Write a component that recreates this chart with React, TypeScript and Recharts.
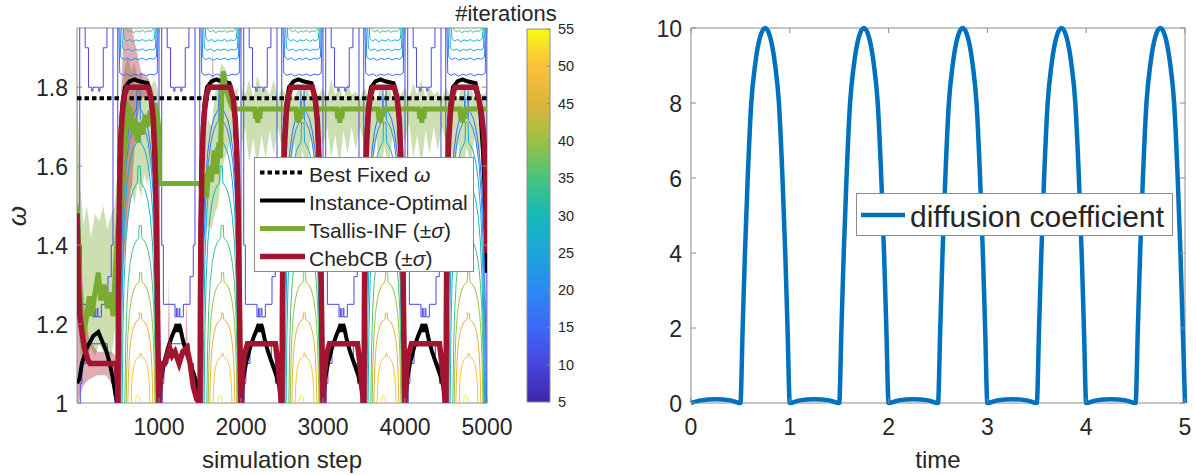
import React from 'react';
import { ComposedChart, LineChart, Line, Area, XAxis, YAxis, ReferenceArea } from 'recharts';

type P = [number, number];
type B = [number, number, number];

const FONT = '"Liberation Sans", Arial, Helvetica, sans-serif';
const TXT = '#262626';
const AX = '#8c8c8c';

// ---------------- left panel axes ----------------
const stepTicks = [1000, 2000, 3000, 4000, 5000];
const omegaTicks = [1, 1.2, 1.4, 1.6, 1.8];
const stepDomain: [number, number] = [0, 5000];
const omegaDomain: [number, number] = [1, 1.95];
const periodStarts = [0, 1000, 2000, 3000, 4000];

// ---------------- colorbar ----------------
const cbTicks = [5, 10, 15, 20, 25, 30, 35, 40, 45, 50, 55];
const cbDomain: [number, number] = [5, 55];
const parulaStops: [number, string][] = [
  [55, '#F9FB0E'], [52.5, '#F7DC2B'], [50, '#FBC13B'], [45, '#DCB53B'], [40, '#9CC143'],
  [35, '#47C47C'], [30, '#14B9B9'], [25, '#1CA6DC'], [20, '#2A89F1'], [15, '#3D68F8'],
  [10, '#4745DD'], [5, '#3E26A8'],
];

// ---------------- contour levels (#iterations) ----------------
const levelValues = [10, 15, 20, 25, 30, 35, 40, 45, 50, 55];
const levelColors = ['#4B47E2', '#3D68F8', '#2A89F1', '#1CA6DC', '#14B9B9', '#47C47C', '#9CC143', '#E9B236', '#F8C832', '#F5F014'];

// bottom arches in high-diffusion half of each period (step offset within period)
const archLevels = [15, 20, 25, 30, 35, 40, 45, 50, 55];
const archLeft = [508, 520, 535, 550, 583, 600, 620, 660, 715];
const archRight = [992, 982, 972, 965, 960, 950, 925, 890, 765];
const archPeak = [1.8, 1.77, 1.71, 1.6, 1.45, 1.33, 1.228, 1.126, 1.02];
const archProfileU = [0, 0.05, 0.12, 0.22, 0.35, 0.5, 0.65, 0.8, 0.9, 0.93, 1];
const archProfileF = [0, 0.3, 0.52, 0.68, 0.79, 0.86, 0.9, 0.92, 0.93, 1, 1];

// hanging bowls near the top of the high-diffusion half
const bowlLevels = [15, 20, 25, 30, 35];
const bowlLeft = [512, 525, 545, 565, 590];
const bowlRight = [988, 978, 965, 952, 935];
const bowlDepth = [1.83, 1.87, 1.893, 1.917, 1.94];
const bowlProfileU = [0, 0.02, 0.1, 0.2, 0.3, 0.4, 0.5, 0.6, 0.7, 0.8, 0.9, 0.98, 1];
const bowlProfileD = [0, 0.006, 0, 0.004, -0.002, 0.003, 0, 0.004, -0.001, 0.003, 0.001, 0.006, 0];

// level-10 contours in the low-diffusion half
const plugUpper: P[] = [[100, 1.95], [100, 1.9], [140, 1.9], [140, 1.8], [180, 1.8], [180, 1.79], [195, 1.79], [195, 1.8], [265, 1.8], [265, 1.79], [280, 1.79], [280, 1.8], [320, 1.8], [320, 1.9], [365, 1.9], [365, 1.95]];
const plugLower: P[] = [[33, 1.95], [33, 1.4], [53, 1.4], [53, 1.25], [195, 1.25], [195, 1.218], [212, 1.218], [212, 1.24], [222, 1.24], [222, 1.218], [245, 1.218], [245, 1.24], [255, 1.24], [255, 1.218], [297, 1.218], [297, 1.25], [378, 1.25], [378, 1.32], [418, 1.32], [418, 1.4], [439, 1.4], [439, 1.95]];
const mountain: P[] = [[40, 1], [40, 1.05], [60, 1.05], [60, 1.1], [110, 1.1], [110, 1.15], [370, 1.15], [370, 1.1], [420, 1.1], [420, 1.05], [460, 1.05], [460, 1]];
const edgeA: P[] = [[497, 1], [497, 1.95]];
const edgeB: P[] = [[1000, 1], [1000, 1.95]];

// ---------------- series ----------------
const bestFixedOmega = 1.772;

const ioFirstLow: P[] = [[0, 1.05], [30, 1.06], [60, 1.1], [120, 1.14], [200, 1.17], [260, 1.18], [320, 1.15], [360, 1.13], [400, 1.1], [440, 1.06], [470, 1.02], [495, 1.0]];
const ioLow: P[] = [[25, 1.06], [60, 1.1], [110, 1.14], [160, 1.17], [200, 1.19], [215, 1.2], [230, 1.18], [245, 1.2], [260, 1.19], [290, 1.16], [330, 1.13], [380, 1.1], [430, 1.07], [470, 1.04], [495, 1.0]];
const ioHigh: P[] = [[500, 1.0], [503, 1.25], [510, 1.45], [520, 1.6], [535, 1.7], [555, 1.76], [585, 1.8], [640, 1.815], [700, 1.82], [760, 1.815], [860, 1.81], [895, 1.78], [925, 1.72], [945, 1.63], [962, 1.5], [976, 1.3], [990, 1.1], [1000, 1.0]];
const ioLastHigh: P[] = [[4500, 1.0], [4503, 1.25], [4510, 1.45], [4520, 1.6], [4535, 1.7], [4555, 1.76], [4585, 1.8], [4640, 1.815], [4700, 1.82], [4760, 1.815], [4860, 1.81], [4895, 1.78], [4925, 1.72], [4950, 1.64], [4975, 1.52], [4990, 1.42], [5000, 1.33]];

const chFirstLow: P[] = [[0, 1.48], [8, 1.42], [18, 1.3], [35, 1.22], [60, 1.18], [90, 1.14], [130, 1.11], [160, 1.1], [480, 1.1], [495, 1.05]];
const chLow1: P[] = [[1015, 1.06], [1040, 1.1], [1070, 1.1], [1100, 1.12], [1130, 1.14], [1160, 1.12], [1195, 1.13], [1245, 1.1], [1290, 1.13], [1340, 1.14], [1380, 1.1], [1420, 1.04], [1460, 1.01], [1495, 1.0]];
const chLow: P[] = [[15, 1.07], [40, 1.12], [80, 1.15], [420, 1.15], [450, 1.1], [480, 1.03], [495, 1.0]];
const chHigh: P[] = [[500, 1.0], [505, 1.25], [512, 1.45], [522, 1.58], [535, 1.67], [555, 1.74], [580, 1.78], [610, 1.8], [870, 1.8], [905, 1.77], [930, 1.72], [950, 1.63], [965, 1.5], [978, 1.3], [990, 1.12], [1000, 1.0]];
const chLastHigh: P[] = [[4500, 1.0], [4505, 1.25], [4512, 1.45], [4522, 1.58], [4535, 1.67], [4555, 1.74], [4580, 1.78], [4610, 1.8], [4860, 1.8], [4900, 1.77], [4935, 1.73], [4960, 1.68], [4980, 1.6], [4992, 1.5], [5000, 1.38]];

const tsallisINF: P[] = [
  [0, 1.5], [15, 1.44], [30, 1.3], [50, 1.22], [80, 1.17], [110, 1.21], [150, 1.27], [180, 1.22], [220, 1.28], [260, 1.33], [290, 1.26], [330, 1.3], [370, 1.24], [410, 1.28], [440, 1.22], [470, 1.35], [500, 1.45], [530, 1.5], [560, 1.58], [590, 1.68], [620, 1.75], [650, 1.74], [680, 1.68], [710, 1.72], [740, 1.66], [770, 1.71], [800, 1.68], [830, 1.73], [860, 1.7], [890, 1.74], [920, 1.72], [950, 1.76], [980, 1.73], [995, 1.7], [1005, 1.556],
  [1500, 1.556], [1520, 1.54], [1550, 1.58], [1580, 1.52], [1610, 1.6], [1640, 1.56], [1670, 1.64], [1700, 1.58], [1730, 1.66], [1750, 1.62], [1765, 1.78], [1785, 1.84], [1810, 1.8], [1840, 1.78], [1870, 1.76], [1900, 1.745],
  [2170, 1.745], [2180, 1.72], [2190, 1.745], [2205, 1.71], [2215, 1.745], [2230, 1.72], [2240, 1.745], [2670, 1.745], [2680, 1.72], [2690, 1.745], [2705, 1.71], [2715, 1.745], [2730, 1.72], [2740, 1.745],
  [3170, 1.745], [3180, 1.72], [3190, 1.745], [3205, 1.71], [3215, 1.745], [3230, 1.72], [3240, 1.745], [3670, 1.745], [3680, 1.72], [3690, 1.745], [3705, 1.71], [3715, 1.745], [3730, 1.725], [3740, 1.745],
  [4170, 1.745], [4180, 1.72], [4190, 1.745], [4205, 1.71], [4215, 1.745], [4230, 1.72], [4240, 1.745], [4670, 1.745], [4680, 1.72], [4690, 1.745], [4705, 1.71], [4715, 1.745], [4730, 1.72], [4740, 1.745], [5000, 1.745],
];

const tsallisBand: B[][] = [
  [[0, 1.3, 1.8], [15, 1.2, 1.7], [40, 1.13, 1.55], [80, 1.1, 1.45], [120, 1.12, 1.5], [170, 1.14, 1.42], [220, 1.12, 1.48], [270, 1.15, 1.46], [320, 1.13, 1.5], [370, 1.12, 1.44], [420, 1.12, 1.48], [460, 1.18, 1.5], [500, 1.25, 1.6], [540, 1.3, 1.75], [580, 1.4, 1.85], [620, 1.5, 1.88], [660, 1.55, 1.84], [700, 1.5, 1.86], [740, 1.56, 1.82], [780, 1.52, 1.84], [820, 1.58, 1.8], [860, 1.55, 1.83], [900, 1.6, 1.8], [940, 1.58, 1.82], [980, 1.6, 1.8], [998, 1.56, 1.78]],
  [[1505, 1.5, 1.58], [1530, 1.46, 1.62], [1560, 1.42, 1.66], [1600, 1.45, 1.72], [1640, 1.44, 1.7], [1680, 1.48, 1.78], [1720, 1.5, 1.82], [1760, 1.58, 1.86], [1800, 1.62, 1.85], [1840, 1.64, 1.82], [1880, 1.66, 1.8], [1920, 1.68, 1.79], [1960, 1.66, 1.8]],
  [[2000, 1.64, 1.8], [2050, 1.7, 1.78], [2100, 1.61, 1.82], [2150, 1.67, 1.77], [2200, 1.6, 1.83], [2250, 1.68, 1.79], [2300, 1.62, 1.8], [2350, 1.69, 1.78], [2400, 1.63, 1.82], [2450, 1.7, 1.77], [2500, 1.64, 1.8], [2550, 1.69, 1.78], [2600, 1.58, 1.79], [2650, 1.66, 1.77], [2700, 1.56, 1.8], [2750, 1.64, 1.78], [2800, 1.58, 1.81], [2850, 1.67, 1.77], [2900, 1.61, 1.79], [2950, 1.68, 1.78],
   [3000, 1.65, 1.8], [3050, 1.7, 1.77], [3100, 1.62, 1.82], [3150, 1.68, 1.78], [3200, 1.6, 1.8], [3250, 1.69, 1.77], [3300, 1.63, 1.81], [3350, 1.7, 1.78], [3400, 1.64, 1.79], [3450, 1.7, 1.77], [3500, 1.66, 1.8], [3550, 1.7, 1.78], [3600, 1.59, 1.79], [3650, 1.67, 1.77], [3700, 1.57, 1.8], [3750, 1.65, 1.78], [3800, 1.6, 1.81], [3850, 1.68, 1.77], [3900, 1.62, 1.79], [3950, 1.69, 1.78],
   [4000, 1.66, 1.8], [4050, 1.71, 1.77], [4100, 1.62, 1.81], [4150, 1.68, 1.78], [4200, 1.6, 1.82], [4250, 1.69, 1.77], [4300, 1.63, 1.8], [4350, 1.7, 1.78], [4400, 1.64, 1.79], [4450, 1.7, 1.77], [4500, 1.66, 1.8], [4550, 1.7, 1.78], [4600, 1.58, 1.79], [4650, 1.66, 1.77], [4700, 1.57, 1.81], [4750, 1.65, 1.78], [4800, 1.6, 1.8], [4850, 1.68, 1.77], [4900, 1.62, 1.79], [4950, 1.69, 1.78], [5000, 1.66, 1.79]],
];

const chebBand: B[][] = [
  [[0, 1.0, 1.52], [20, 1.0, 1.5], [40, 1.02, 1.42], [70, 1.04, 1.3], [100, 1.05, 1.22], [150, 1.06, 1.16], [250, 1.07, 1.13], [350, 1.07, 1.13], [420, 1.05, 1.13], [470, 1.0, 1.12], [495, 1.0, 1.1]],
  [[503, 1.05, 1.5], [530, 1.1, 1.75], [570, 1.35, 1.95], [620, 1.45, 1.95], [670, 1.55, 1.95], [720, 1.7, 1.9], [780, 1.77, 1.84], [870, 1.78, 1.82], [930, 1.65, 1.79], [970, 1.4, 1.7], [997, 1.05, 1.35]],
  [[1105, 1.12, 1.12], [1120, 1.11, 1.32], [1135, 1.12, 1.13]],
  [[1320, 1.13, 1.13], [1335, 1.12, 1.28], [1350, 1.13, 1.14]],
  [[1640, 1.8, 1.8], [1655, 1.8, 1.9], [1670, 1.8, 1.8]],
];

// ---------------- right panel ----------------
const timeTicks = [0, 1, 2, 3, 4, 5];
const diffTicks = [0, 2, 4, 6, 8, 10];
const diffTime = [
  0, 0.1, 0.25, 0.4, 0.5, 0.523, 0.546, 0.574, 0.61, 0.648, 0.698, 0.75, 0.802, 0.852, 0.89, 0.926, 0.954, 0.977,
  1, 1.1, 1.25, 1.4, 1.5, 1.523, 1.546, 1.574, 1.61, 1.648, 1.698, 1.75, 1.802, 1.852, 1.89, 1.926, 1.954, 1.977,
  2, 2.1, 2.25, 2.4, 2.5, 2.523, 2.546, 2.574, 2.61, 2.648, 2.698, 2.75, 2.802, 2.852, 2.89, 2.926, 2.954, 2.977,
  3, 3.1, 3.25, 3.4, 3.5, 3.523, 3.546, 3.574, 3.61, 3.648, 3.698, 3.75, 3.802, 3.852, 3.89, 3.926, 3.954, 3.977,
  4, 4.1, 4.25, 4.4, 4.5, 4.523, 4.546, 4.574, 4.61, 4.648, 4.698, 4.75, 4.802, 4.852, 4.89, 4.926, 4.954, 4.977,
  5,
];
const diffValue = [
  0, 0.07, 0.1, 0.07, 0, 2, 4, 6, 8, 9, 9.75, 10, 9.75, 9, 8, 6, 4, 2,
  0, 0.07, 0.1, 0.07, 0, 2, 4, 6, 8, 9, 9.75, 10, 9.75, 9, 8, 6, 4, 2,
  0, 0.07, 0.1, 0.07, 0, 2, 4, 6, 8, 9, 9.75, 10, 9.75, 9, 8, 6, 4, 2,
  0, 0.07, 0.1, 0.07, 0, 2, 4, 6, 8, 9, 9.75, 10, 9.75, 9, 8, 6, 4, 2,
  0, 0.07, 0.1, 0.07, 0, 2, 4, 6, 8, 9, 9.75, 10, 9.75, 9, 8, 6, 4, 2,
  0,
];

// ---------------- builders ----------------
const shift = (pts: P[], dx: number): P[] => pts.map(([x, y]) => [x + dx, y] as P);
const toXY = (pts: P[]) => pts.map(([x, y]) => ({ x, y }));
const toBand = (pts: B[]) => pts.map(([x, lo, hi]) => ({ x, r: [lo, hi] }));

const instanceOptimal: P[] = [
  ...ioFirstLow, ...ioHigh,
  ...shift(ioLow, 1000), ...shift(ioHigh, 1000),
  ...shift(ioLow, 2000), ...shift(ioHigh, 2000),
  ...shift(ioLow, 3000), ...shift(ioHigh, 3000),
  ...shift(ioLow, 4000), ...ioLastHigh,
];
const chebCB: P[] = [
  ...chFirstLow, ...chHigh,
  ...chLow1, ...shift(chHigh, 1000),
  ...shift(chLow, 2000), ...shift(chHigh, 2000),
  ...shift(chLow, 3000), ...shift(chHigh, 3000),
  ...shift(chLow, 4000), ...chLastHigh,
];

const archShape = (l: number, r: number, peak: number): P[] => {
  const c = (l + r) / 2;
  const h = peak - 1;
  const pts: P[] = archProfileU.map((u, i) => [l + u * (c - l), 1 + h * archProfileF[i]] as P);
  for (let i = archProfileU.length - 2; i >= 0; i--) pts.push([r - archProfileU[i] * (r - c), 1 + h * archProfileF[i]]);
  return pts;
};
const bowlShape = (l: number, r: number, d: number): P[] =>
  bowlProfileU.map((u, i) => [l + u * (r - l), i === 0 || i === bowlProfileU.length - 1 ? 1.95 : Math.min(1.95, d + bowlProfileD[i])] as P);

const tile = (shapes: P[][]) => {
  const out: { x: number; y: number | null }[] = [];
  periodStarts.forEach((p) => {
    shapes.forEach((s) => {
      s.forEach(([x, y]) => out.push({ x: x + p, y }));
      out.push({ x: p, y: null });
    });
  });
  return out;
};

const contourLines = levelValues.map((L, i) => {
  const shapes: P[][] = [];
  if (L === 10) shapes.push(plugUpper, plugLower, mountain, edgeA, edgeB);
  const ai = archLevels.indexOf(L);
  if (ai >= 0) shapes.push(archShape(archLeft[ai], archRight[ai], archPeak[ai]));
  const bi = bowlLevels.indexOf(L);
  if (bi >= 0) shapes.push(bowlShape(bowlLeft[bi], bowlRight[bi], bowlDepth[bi]));
  return { color: levelColors[i], data: tile(shapes) };
});

const diffusion = diffTime.map((t, i) => ({ t, d: diffValue[i] }));
const colorbarSpan = [{ x: 0, v: cbDomain[0] }, { x: 1, v: cbDomain[1] }];

// ---------------- layout ----------------
const PL = { left: 77, right: 487, top: 28, bottom: 403 };
const PR = { left: 91, right: 585, top: 28, bottom: 403 }; // local to right chart
const CB = { left: 27, right: 50, top: 29, bottom: 402 }; // local to colorbar chart

const mkXTick = (R: typeof PL) => (props: any) => {
  const { x, payload } = props;
  return (
    <g>
      <line x1={x} x2={x} y1={R.bottom} y2={R.bottom - 5} stroke={AX} />
      <line x1={x} x2={x} y1={R.top} y2={R.top + 5} stroke={AX} />
      <text x={x} y={R.bottom + 32} textAnchor="middle" fontSize={23} fill={TXT} fontFamily={FONT}>{String(payload.value)}</text>
    </g>
  );
};
const mkYTick = (R: typeof PL) => (props: any) => {
  const { y, payload } = props;
  return (
    <g>
      <line x1={R.left} x2={R.left + 5} y1={y} y2={y} stroke={AX} />
      <line x1={R.right} x2={R.right - 5} y1={y} y2={y} stroke={AX} />
      <text x={R.left - 9} y={y + 8.5} textAnchor="end" fontSize={23} fill={TXT} fontFamily={FONT}>{String(payload.value)}</text>
    </g>
  );
};
const cbTick = (props: any) => {
  const { y, payload } = props;
  return (
    <g>
      <line x1={CB.right} x2={CB.right - 3} y1={y} y2={y} stroke={AX} />
      <text x={CB.right + 8} y={y + 5} textAnchor="start" fontSize={14.5} fill={TXT} fontFamily={FONT}>{String(payload.value)}</text>
    </g>
  );
};

const common = { dot: false as const, activeDot: false as const, isAnimationActive: false, type: 'linear' as const };

export default function App() {
  return (
    <div style={{ position: 'absolute', left: 0, top: 0, width: 1196, height: 475, background: '#fff', fontFamily: FONT, overflow: 'hidden' }}>
      <svg width={0} height={0} style={{ position: 'absolute' }}>
        <defs>
          <linearGradient id="parulaGrad" x1="0" y1="0" x2="0" y2="1">
            {parulaStops.map(([v, c], i) => (
              <stop key={i} offset={(cbDomain[1] - v) / (cbDomain[1] - cbDomain[0])} stopColor={c} />
            ))}
          </linearGradient>
        </defs>
      </svg>

      {/* left panel */}
      <div style={{ position: 'absolute', left: 0, top: 0 }}>
        <ComposedChart width={600} height={475} margin={{ top: PL.top, right: 600 - PL.right, bottom: 475 - PL.bottom - 30, left: PL.left - 40 }}>
          <XAxis type="number" dataKey="x" domain={stepDomain} ticks={stepTicks} interval={0} height={30} axisLine={false} tickLine={false} tick={mkXTick(PL)} allowDataOverflow />
          <YAxis type="number" domain={omegaDomain} ticks={omegaTicks} interval={0} width={40} axisLine={false} tickLine={false} tick={mkYTick(PL)} allowDataOverflow />
          {contourLines.map((c, i) => (
            <Line key={'c' + i} data={c.data} dataKey="y" stroke={c.color} strokeWidth={1} connectNulls={false} {...common} />
          ))}
          <Line data={[{ x: 0, y: bestFixedOmega }, { x: 5000, y: bestFixedOmega }]} dataKey="y" stroke="#000" strokeWidth={4} strokeDasharray="4.5 3" {...common} />
          <Line data={toXY(instanceOptimal)} dataKey="y" stroke="#000" strokeWidth={4} {...common} />
          {tsallisBand.map((s, i) => (
            <Area key={'tb' + i} data={toBand(s)} dataKey="r" stroke="none" fill="#77AC30" fillOpacity={0.38} {...common} />
          ))}
          <Line data={toXY(tsallisINF)} dataKey="y" stroke="#77AC30" strokeWidth={5} {...common} />
          {chebBand.map((s, i) => (
            <Area key={'cb' + i} data={toBand(s)} dataKey="r" stroke="none" fill="#A2142F" fillOpacity={0.35} {...common} />
          ))}
          <Line data={toXY(chebCB)} dataKey="y" stroke="#A2142F" strokeWidth={5.5} {...common} />
          <ReferenceArea x1={0} x2={5000} y1={1} y2={1.95} fill="none" stroke={AX} strokeWidth={1} ifOverflow="visible" />
        </ComposedChart>
      </div>

      {/* colorbar */}
      <div style={{ position: 'absolute', left: 500, top: 0 }}>
        <ComposedChart width={100} height={475} margin={{ top: CB.top, right: 0, bottom: 475 - CB.bottom - 30, left: CB.left }}>
          <XAxis type="number" dataKey="x" domain={[0, 1]} height={30} tick={false} tickLine={false} axisLine={false} />
          <YAxis type="number" orientation="right" domain={cbDomain} ticks={cbTicks} interval={0} width={50} axisLine={false} tickLine={false} tick={cbTick} />
          <ReferenceArea x1={0} x2={1} y1={cbDomain[0]} y2={cbDomain[1]} fill="url(#parulaGrad)" fillOpacity={1} stroke={AX} strokeWidth={1} ifOverflow="visible" />
          <Line data={colorbarSpan} dataKey="v" stroke="none" strokeWidth={0} {...common} />
        </ComposedChart>
      </div>

      {/* right panel */}
      <div style={{ position: 'absolute', left: 600, top: 0 }}>
        <LineChart width={596} height={475} margin={{ top: PR.top, right: 596 - PR.right, bottom: 475 - PR.bottom - 30, left: PR.left - 40 }}>
          <XAxis type="number" dataKey="t" domain={[0, 5]} ticks={timeTicks} interval={0} height={30} axisLine={false} tickLine={false} tick={mkXTick(PR)} />
          <YAxis type="number" domain={[0, 10]} ticks={diffTicks} interval={0} width={40} axisLine={false} tickLine={false} tick={mkYTick(PR)} />
          <ReferenceArea x1={0} x2={5} y1={0} y2={10} fill="none" stroke={AX} strokeWidth={1} ifOverflow="visible" />
          <Line data={diffusion} dataKey="d" stroke="#0072BD" strokeWidth={4.5} {...common} type="monotone" />
        </LineChart>
      </div>

      {/* legends and labels */}
      <svg width={1196} height={475} style={{ position: 'absolute', left: 0, top: 0, pointerEvents: 'none' }} fontFamily={FONT}>
        <text x={506} y={21} textAnchor="middle" fontSize={22} fill={TXT}>#iterations</text>
        <text x={282} y={468} textAnchor="middle" fontSize={24} fill={TXT}>simulation step</text>
        <text x={938} y={468} textAnchor="middle" fontSize={24} fill={TXT}>time</text>
        <text x={17} y={216} textAnchor="middle" dominantBaseline="central" fontSize={26} fontStyle="italic" fill={TXT} transform="rotate(-90 17 216)">ω</text>

        <rect x={254.5} y={157.5} width={219} height={114} fill="#fff" stroke={AX} />
        <line x1={260} x2={305} y1={172.5} y2={172.5} stroke="#000" strokeWidth={4} strokeDasharray="4.5 3" />
        <line x1={260} x2={305} y1={200.5} y2={200.5} stroke="#000" strokeWidth={4} />
        <line x1={260} x2={305} y1={228.5} y2={228.5} stroke="#77AC30" strokeWidth={5} />
        <line x1={260} x2={305} y1={256.5} y2={256.5} stroke="#A2142F" strokeWidth={5.5} />
        <text x={309} y={181.5} fontSize={21} fill={TXT}>Best Fixed <tspan fontStyle="italic">ω</tspan></text>
        <text x={309} y={209.5} fontSize={21} fill={TXT}>Instance-Optimal</text>
        <text x={309} y={237.5} fontSize={21} fill={TXT}>Tsallis-INF (±<tspan fontStyle="italic">σ</tspan>)</text>
        <text x={309} y={265.5} fontSize={21} fill={TXT}>ChebCB (±<tspan fontStyle="italic">σ</tspan>)</text>

        <rect x={856.5} y={193.5} width={316} height={42} fill="#fff" stroke={AX} />
        <line x1={861} x2={905} y1={215} y2={215} stroke="#0072BD" strokeWidth={4.5} />
        <text x={910} y={227} fontSize={30} fill={TXT}>diffusion coefficient</text>
      </svg>
    </div>
  );
}
